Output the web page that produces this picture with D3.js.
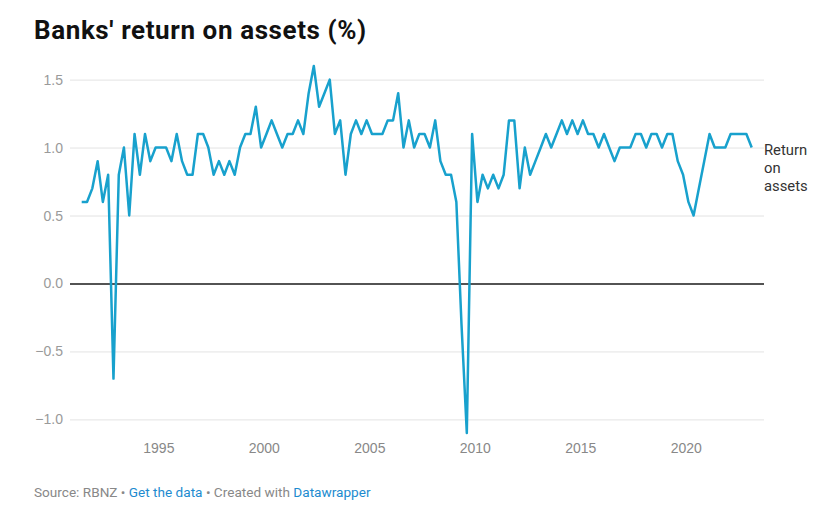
<!DOCTYPE html>
<html>
<head>
<meta charset="utf-8">
<script src="https://cdn.jsdelivr.net/npm/d3@7"></script>
<style>
  body { margin: 0; background: #fff; font-family: Roboto, "Noto Sans", sans-serif; }
  .grid line { stroke: #e3e3e3; stroke-width: 1; }
  .grid path { display: none; }
  .y-axis text { fill: #9a9a9a; font-size: 14px; }
  .x-axis text { fill: #888; font-size: 14px; }
  .line { fill: none; stroke: #18a1cd; stroke-width: 2.5; stroke-linejoin: round; }
</style>
</head>
<body>
<div id="graph"></div>
<script>
// quarterly return on assets, first quarter mid 1991
var firstQuarter = new Date(1991, 4, 15);
var roa = [
  0.6, 0.6, 0.7, 0.9, 0.6, 0.8, -0.7, 0.8, 1.0, 0.5, 1.1, 0.8, 1.1, 0.9, 1.0, 1.0,
  1.0, 0.9, 1.1, 0.9, 0.8, 0.8, 1.1, 1.1, 1.0, 0.8, 0.9, 0.8, 0.9, 0.8, 1.0, 1.1,
  1.1, 1.3, 1.0, 1.1, 1.2, 1.1, 1.0, 1.1, 1.1, 1.2, 1.1, 1.4, 1.6, 1.3, 1.4, 1.5,
  1.1, 1.2, 0.8, 1.1, 1.2, 1.1, 1.2, 1.1, 1.1, 1.1, 1.2, 1.2, 1.4, 1.0, 1.2, 1.0,
  1.1, 1.1, 1.0, 1.2, 0.9, 0.8, 0.8, 0.6, -0.3, -1.1, 1.1, 0.6, 0.8, 0.7, 0.8, 0.7,
  0.8, 1.2, 1.2, 0.7, 1.0, 0.8, 0.9, 1.0, 1.1, 1.0, 1.1, 1.2, 1.1, 1.2, 1.1, 1.2,
  1.1, 1.1, 1.0, 1.1, 1.0, 0.9, 1.0, 1.0, 1.0, 1.1, 1.1, 1.0, 1.1, 1.1, 1.0, 1.1,
  1.1, 0.9, 0.8, 0.6, 0.5, 0.7, 0.9, 1.1, 1.0, 1.0, 1.0, 1.1, 1.1, 1.1, 1.1, 1.0
];
var yTicks = [-1.0, -0.5, 0.0, 0.5, 1.0, 1.5];
var xTickYears = [1995, 2000, 2005, 2010, 2015, 2020];
var seriesLabel = ["Return", "on", "assets"];

var width = 836, height = 510;

var data = roa.map(function (v, i) {
    return { date: d3.timeMonth.offset(firstQuarter, 3 * i), value: v };
});

var svg = d3.select("#graph")
    .append("svg")
    .attr("width", width)
    .attr("height", height);

// title
svg.append("text")
    .attr("x", 34)
    .attr("y", 38.5)
    .style("font-size", "26px")
    .style("font-weight", "700")
    .style("letter-spacing", "0.6px")
    .style("fill", "#111")
    .text("Banks' return on assets (%)");

var x = d3.scaleTime()
    .domain(d3.extent(data, function (d) { return d.date; }))
    .range([81.7, 751.7]);

var y = d3.scaleLinear()
    .domain([-1.0, 1.5])
    .range([419.4, 79.6]);

// Y grid + labels
var yAxis = svg.append("g")
    .attr("class", "grid y-axis")
    .attr("transform", "translate(70,0)")
    .call(d3.axisLeft(y)
        .tickValues(yTicks)
        .tickSize(-694)
        .tickPadding(7)
        .tickFormat(d3.format(".1f")));

yAxis.selectAll(".tick line")
    .filter(function (d) { return d === 0; })
    .style("stroke", "#1a1a1a")
    .style("stroke-width", 1.6);

// X labels only
svg.append("g")
    .attr("class", "grid x-axis")
    .attr("transform", "translate(0,437)")
    .call(d3.axisBottom(x)
        .tickValues(xTickYears.map(function (yr) { return new Date(yr, 0, 1); }))
        .tickSize(0)
        .tickPadding(6)
        .tickFormat(d3.timeFormat("%Y")));

// line
svg.append("path")
    .datum(data)
    .attr("class", "line")
    .attr("d", d3.line()
        .x(function (d) { return x(d.date); })
        .y(function (d) { return y(d.value); }));

// series label
var last = data[data.length - 1];
svg.append("text")
    .attr("x", 764)
    .attr("y", y(last.value) + 7.8)
    .style("font-size", "14.8px")
    .style("fill", "#333")
    .selectAll("tspan")
    .data(seriesLabel)
    .join("tspan")
    .attr("x", 764)
    .attr("dy", function (d, i) { return i === 0 ? 0 : 18; })
    .text(function (d) { return d; });

// footer
var foot = svg.append("text")
    .attr("x", 34)
    .attr("y", 497)
    .style("font-size", "13.6px")
    .style("fill", "#888");
foot.append("tspan").text("Source: RBNZ • ");
foot.append("tspan").style("fill", "#1d8bcf").text("Get the data");
foot.append("tspan").text(" • Created with ");
foot.append("tspan").style("fill", "#1d8bcf").text("Datawrapper");
</script>
</body>
</html>
